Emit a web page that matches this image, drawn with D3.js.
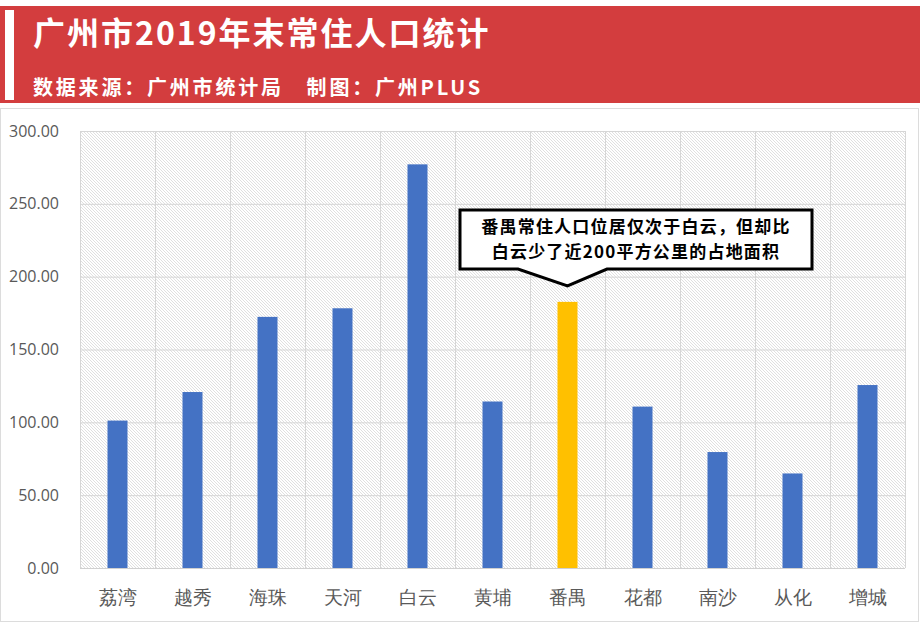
<!DOCTYPE html>
<html><head><meta charset="utf-8">
<script src="https://cdn.jsdelivr.net/npm/d3@7"></script>
<style>
html,body{margin:0;padding:0;background:#fff;}
svg{display:block;font-family:"Noto Sans CJK SC","Microsoft YaHei",sans-serif;}
</style></head>
<body>
<svg id="chart" width="920" height="623"></svg>
<script>
const categories = ["荔湾","越秀","海珠","天河","白云","黄埔","番禺","花都","南沙","从化","增城"];
const values = [101.2, 120.8, 172.4, 178.3, 277.1, 114.3, 182.7, 110.8, 79.6, 64.9, 125.6];
const highlight = "番禺";
const yTicks = [0, 50, 100, 150, 200, 250, 300];
const title = "广州市2019年末常住人口统计";
const subtitle = "数据来源：广州市统计局　制图：广州PLUS";
const calloutLines = ["番禺常住人口位居仅次于白云，但却比","白云少了近200平方公里的占地面积"];

(function(){
const svg = d3.select("#chart");
const W = 920, H = 623;

// header
svg.append("rect").attr("x",0).attr("y",6).attr("width",W).attr("height",97).attr("fill","#d33d3e");
svg.append("rect").attr("x",5).attr("y",10).attr("width",9).attr("height",90).attr("fill","#fff");
svg.append("text").attr("x",33).attr("y",45).attr("fill","#fff")
  .attr("font-size",32).attr("font-weight",700).attr("letter-spacing",2).text(title);
svg.append("text").attr("x",33).attr("y",95).attr("fill","#fff")
  .attr("font-size",20).attr("font-weight",700).attr("letter-spacing",2.8).text(subtitle);

// outer frame
svg.append("rect").attr("x",0.5).attr("y",108.5).attr("width",W-2).attr("height",H-110)
  .attr("fill","none").attr("stroke","#dcdcdc");

// pattern
const defs = svg.append("defs");
const pat = defs.append("pattern").attr("id","hatch").attr("patternUnits","userSpaceOnUse")
  .attr("width",3).attr("height",3);
pat.append("path").attr("d","M0,0 L3,3 M-1,2 L1,4 M2,-1 L4,1")
  .attr("stroke","#d2d2d2").attr("stroke-width",0.7);

const pL = 80, pR = 905, pT = 131, pB = 568;
const x = d3.scaleBand().domain(categories).range([pL,pR]).paddingInner(0).paddingOuter(0);
const y = d3.scaleLinear().domain([0,300]).range([pB,pT]);

const g = svg.append("g");
g.append("rect").attr("x",pL).attr("y",pT).attr("width",pR-pL).attr("height",pB-pT)
  .attr("fill","url(#hatch)");

g.selectAll(".hg").data(yTicks).join("line")
  .attr("x1",pL).attr("x2",pR).attr("y1",d=>y(d)+0.5).attr("y2",d=>y(d)+0.5)
  .attr("stroke","#d6d6d6").attr("stroke-width",1);
const bounds = categories.map(c=>x(c)).concat([pR]);
g.selectAll(".vg").data(bounds).join("line")
  .attr("x1",d=>Math.round(d)+0.5).attr("x2",d=>Math.round(d)+0.5).attr("y1",pT).attr("y2",pB)
  .attr("stroke","#d6d6d6").attr("stroke-width",1);

const bw = 20;
g.selectAll(".bar").data(categories).join("rect")
  .attr("x",(d)=>x(d)+x.bandwidth()/2-bw/2)
  .attr("y",(d,i)=>y(values[i]))
  .attr("width",bw)
  .attr("height",(d,i)=>y(0)-y(values[i]))
  .attr("fill",d=>d===highlight?"#ffc000":"#4472c4");

g.append("line").attr("x1",pL).attr("x2",pR).attr("y1",pB+0.5).attr("y2",pB+0.5)
  .attr("stroke","#d0d0d0");

const yAxis = d3.axisLeft(y).tickValues(yTicks).tickFormat(d3.format(".2f")).tickSize(0).tickPadding(0);
const ya = svg.append("g").attr("transform",`translate(59,0)`).call(yAxis);
ya.select(".domain").remove();
ya.selectAll("text").attr("fill","#595959").attr("font-size",16)
  .attr("font-family","'Open Sans','Noto Sans',sans-serif");

const xAxis = d3.axisBottom(x).tickSize(0).tickPadding(0);
const xa = svg.append("g").attr("transform",`translate(0,590)`).call(xAxis);
xa.select(".domain").remove();
xa.selectAll("text").attr("fill","#595959").attr("font-size",19);

const bx0 = 460, bx1 = 812, by0 = 210, by1 = 269;
const tipX = x(highlight)+x.bandwidth()/2, tipY = 286;
const path = `M${bx0},${by0} L${bx1},${by0} L${bx1},${by1} L${607},${by1} L${tipX},${tipY} L${518},${by1} L${bx0},${by1} Z`;
svg.append("path").attr("d",path).attr("fill","#fff").attr("stroke","#000").attr("stroke-width",3)
  .attr("stroke-linejoin","miter");
svg.selectAll(".cl").data(calloutLines).join("text")
  .attr("x",(bx0+bx1)/2).attr("y",(d,i)=>233+i*25)
  .attr("text-anchor","middle").attr("font-size",17).attr("letter-spacing",1.2)
  .attr("font-weight",700).attr("fill","#000")
  .text(d=>d);
})();
</script>
</body></html>
